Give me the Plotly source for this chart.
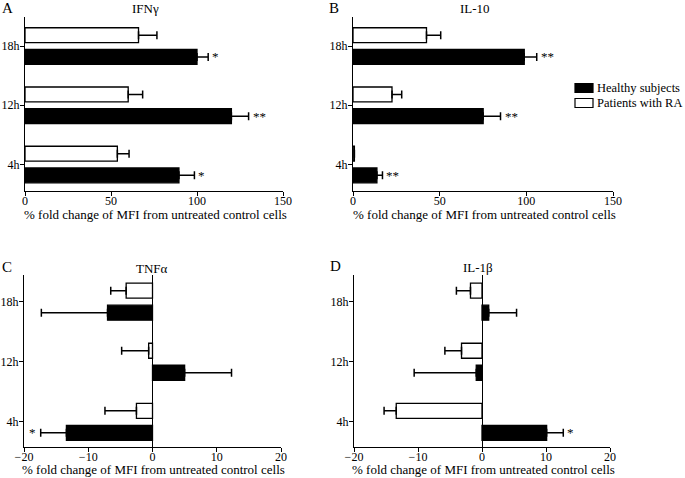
import plotly.graph_objects as go

# ---------------- data ----------------
categories = ["4h", "12h", "18h"]
series_names = ["Healthy subjects", "Patients with RA"]

ifng_healthy = [89.5, 120.0, 100.0]
ifng_healthy_err = [9.0, 10.0, 6.5]
ifng_patients = [53.7, 60.0, 66.0]
ifng_patients_err = [6.8, 8.4, 10.7]
ifng_marks = ["*", "**", "*"]

il10_healthy = [13.8, 75.1, 98.8]
il10_healthy_err = [3.2, 10.0, 7.2]
il10_patients = [0.8, 22.5, 42.4]
il10_patients_err = [0.0, 5.6, 8.2]
il10_marks = ["**", "**", "**"]

tnfa_healthy = [-13.4, 5.0, -7.0]
tnfa_healthy_err = [4.0, 7.3, 10.3]
tnfa_patients = [-2.5, -0.6, -4.1]
tnfa_patients_err = [4.9, 4.2, 2.4]
tnfa_marks = ["*", "", ""]

il1b_healthy = [10.1, -0.9, 1.05]
il1b_healthy_err = [2.6, 9.7, 4.35]
il1b_patients = [-13.4, -3.2, -1.8]
il1b_patients_err = [1.9, 2.6, 2.2]
il1b_marks = ["*", "", ""]

panel_letters = ["A", "B", "C", "D"]
panel_titles = ["IFNγ", "IL-10", "TNFα", "IL-1β"]
x_ranges = [[0, 150], [0, 150], [-20, 20], [-20, 20]]
x_tickvals = [[0, 50, 100, 150], [0, 50, 100, 150], [-20, -10, 0, 10, 20], [-20, -10, 0, 10, 20]]
x_title = "% fold change of MFI from untreated control cells"

panels = [
    (ifng_healthy, ifng_healthy_err, ifng_patients, ifng_patients_err, ifng_marks),
    (il10_healthy, il10_healthy_err, il10_patients, il10_patients_err, il10_marks),
    (tnfa_healthy, tnfa_healthy_err, tnfa_patients, tnfa_patients_err, tnfa_marks),
    (il1b_healthy, il1b_healthy_err, il1b_patients, il1b_patients_err, il1b_marks),
]

# ---------------- layout geometry (pixels) ----------------
W, H = 685, 478
boxes = [(25, 283, 17, 191), (353, 613, 17, 191), (24, 281, 275, 447), (354, 610, 275, 447)]
y_ranges = [[-0.447, 2.49], [-0.447, 2.49], [-0.42, 2.445], [-0.42, 2.445]]
title_pos = [(145, 8), (475, 8), (152, 268), (478, 267)]
letter_pos = [(7, 8), (334, 8), (7, 267), (335, 266)]
xtitle_y = [214, 214, 469, 469]

FONT = "Liberation Serif"
BARGAP = 0.267
BARGROUPGAP = 0.318


def px(x):
    return x / W


def py(y):
    return 1 - y / H


def err_dirs(vals, errs):
    plus = [e if v >= 0 else 0 for v, e in zip(vals, errs)]
    minus = [e if v < 0 else 0 for v, e in zip(vals, errs)]
    return plus, minus


fig = go.Figure()
annotations = []
layout_axes = {}

for i, (hv, he, pv, pe, marks) in enumerate(panels):
    sfx = "" if i == 0 else str(i + 1)
    xa, ya = "x" + sfx, "y" + sfx
    for name, vals, errs, fill in [(series_names[0], hv, he, "black"),
                                   (series_names[1], pv, pe, "white")]:
        plus, minus = err_dirs(vals, errs)
        fig.add_trace(go.Bar(
            x=vals, y=categories, orientation="h", name=name,
            marker=dict(color=fill, line=dict(color="black", width=1.3)),
            error_x=dict(type="data", symmetric=False, array=plus, arrayminus=minus,
                         color="black", thickness=1.5, width=4),
            xaxis=xa, yaxis=ya, showlegend=False,
        ))
    # significance marks next to healthy bars
    off = -(1 - BARGAP) / 4
    for k, m in enumerate(marks):
        if not m:
            continue
        end = hv[k] + (he[k] if hv[k] >= 0 else -he[k])
        annotations.append(dict(
            x=end, y=k + off, xref=xa, yref=ya, text=m, showarrow=False,
            xanchor="left" if hv[k] >= 0 else "right",
            xshift=2 if hv[k] >= 0 else -3, yshift=0,
            font=dict(family=FONT, size=13, color="#000000")))

    l, r, t, b = boxes[i]
    axis_common = dict(showline=True, linecolor="black", linewidth=1.2,
                       ticks="outside", ticklen=4, tickwidth=1.2, tickcolor="black",
                       showgrid=False, automargin=False,
                       tickfont=dict(family=FONT, size=12, color="black"))
    layout_axes["xaxis" + sfx] = dict(
        domain=[px(l), px(r)], anchor=ya, range=x_ranges[i], tickvals=x_tickvals[i],
        zeroline=(x_ranges[i][0] < 0), zerolinecolor="black", zerolinewidth=1.2,
        ticklabelstandoff=-6, **axis_common)
    layout_axes["yaxis" + sfx] = dict(
        domain=[py(b), py(t)], anchor=xa, type="category",
        categoryorder="array", categoryarray=categories,
        range=y_ranges[i], zeroline=False, ticklabelstandoff=-2, **axis_common)

    annotations.append(dict(x=px(title_pos[i][0]), y=py(title_pos[i][1]), xref="paper", yref="paper",
                            text=panel_titles[i], showarrow=False, xanchor="center", yanchor="middle",
                            font=dict(family=FONT, size=13, color="black")))
    annotations.append(dict(x=px(letter_pos[i][0]), y=py(letter_pos[i][1]), xref="paper", yref="paper",
                            text=panel_letters[i], showarrow=False, xanchor="center", yanchor="middle",
                            font=dict(family=FONT, size=15, color="black")))
    annotations.append(dict(x=px((l + r) / 2 + 1), y=py(xtitle_y[i]), xref="paper", yref="paper",
                            text=x_title, showarrow=False, xanchor="center", yanchor="middle",
                            font=dict(family=FONT, size=13, color="black")))

# manual compact legend (matching the reference's tight spacing)
shapes = []
legend_rows = [(series_names[0], "black", 88), (series_names[1], "white", 103)]
for name, fill, yc in legend_rows:
    shapes.append(dict(type="rect", xref="paper", yref="paper",
                       x0=px(575), x1=px(593), y0=py(yc + 4.5), y1=py(yc - 4.5),
                       fillcolor=fill, line=dict(color="black", width=1.2)))
    annotations.append(dict(x=px(595), y=py(yc), xref="paper", yref="paper", text=name,
                            showarrow=False, xanchor="left", yanchor="middle",
                            font=dict(family=FONT, size=12.5, color="black")))

fig.update_layout(
    template="none",
    width=W, height=H, margin=dict(l=0, r=0, t=0, b=0),
    paper_bgcolor="white", plot_bgcolor="white",
    barmode="group", bargap=BARGAP, bargroupgap=BARGROUPGAP,
    showlegend=False, annotations=annotations, shapes=shapes,
    font=dict(family=FONT, size=13, color="black"),
    **layout_axes,
)

fig.write_html("out.html", config={"displayModeBar": False},
               post_script="document.body.style.margin='0';document.body.style.overflow='hidden';")
